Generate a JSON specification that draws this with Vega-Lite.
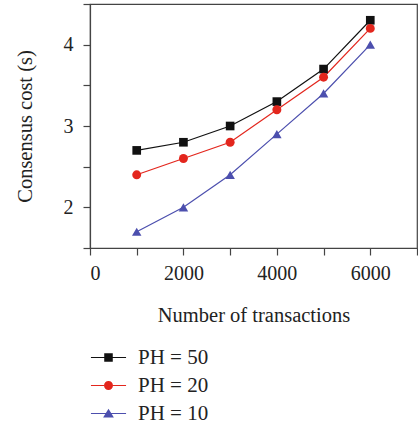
{
  "$schema": "https://vega.github.io/schema/vega-lite/v6.json",
  "width": 327,
  "height": 244,
  "autosize": {"type": "none"},
  "padding": {"left": 90, "top": 4, "right": 1, "bottom": 176},
  "config": {
    "font": "Liberation Serif",
    "view": {"stroke": "#444444", "strokeWidth": 1.2},
    "axis": {
      "grid": false,
      "domainColor": "#444444",
      "domainWidth": 1.2,
      "tickColor": "#444444",
      "tickWidth": 1.2,
      "tickSize": 7,
      "labelFont": "Liberation Serif",
      "labelFontSize": 20,
      "labelColor": "#222222",
      "titleFont": "Liberation Serif",
      "titleFontSize": 20.5,
      "titleFontWeight": "normal",
      "titleColor": "#222222"
    },
    "legend": {
      "labelFont": "Liberation Serif"
    }
  },
  "data": {
    "values": [
      {"n": 1000, "cost": 2.7, "series": "PH = 50"},
      {"n": 2000, "cost": 2.8, "series": "PH = 50"},
      {"n": 3000, "cost": 3.0, "series": "PH = 50"},
      {"n": 4000, "cost": 3.3, "series": "PH = 50"},
      {"n": 5000, "cost": 3.7, "series": "PH = 50"},
      {"n": 6000, "cost": 4.3, "series": "PH = 50"},
      {"n": 1000, "cost": 2.4, "series": "PH = 20"},
      {"n": 2000, "cost": 2.6, "series": "PH = 20"},
      {"n": 3000, "cost": 2.8, "series": "PH = 20"},
      {"n": 4000, "cost": 3.2, "series": "PH = 20"},
      {"n": 5000, "cost": 3.6, "series": "PH = 20"},
      {"n": 6000, "cost": 4.2, "series": "PH = 20"},
      {"n": 1000, "cost": 1.7, "series": "PH = 10"},
      {"n": 2000, "cost": 2.0, "series": "PH = 10"},
      {"n": 3000, "cost": 2.4, "series": "PH = 10"},
      {"n": 4000, "cost": 2.9, "series": "PH = 10"},
      {"n": 5000, "cost": 3.4, "series": "PH = 10"},
      {"n": 6000, "cost": 4.0, "series": "PH = 10"}
    ]
  },
  "encoding": {
    "x": {
      "field": "n",
      "type": "quantitative",
      "scale": {"domain": [0, 7000], "nice": false, "zero": false},
      "axis": {
        "title": "Number of transactions",
        "values": [0, 1000, 2000, 3000, 4000, 5000, 6000, 7000],
        "format": "d",
        "labelExpr": "datum.value % 2000 === 0 && datum.value < 7000 ? datum.label : ''",
        "labelPadding": 8,
        "titlePadding": 22,
        "encode": {"ticks": {"update": {"y2": {"signal": "datum.value % 2000 === 0 ? 7 : 5"}}}}
      }
    },
    "y": {
      "field": "cost",
      "type": "quantitative",
      "scale": {"domain": [1.5, 4.5], "nice": false, "zero": false},
      "axis": {
        "title": "Consensus cost (s)",
        "values": [1.5, 2, 2.5, 3, 3.5, 4, 4.5],
        "labelExpr": "datum.value % 1 === 0 ? '' + datum.value : ''",
        "labelPadding": 10,
        "titlePadding": 28,
        "encode": {"ticks": {"update": {"x2": {"signal": "datum.value % 1 === 0 ? -7 : -5"}}}}
      }
    },
    "color": {
      "field": "series",
      "type": "nominal",
      "scale": {"domain": ["PH = 50", "PH = 20", "PH = 10"], "range": ["#111111", "#e3261d", "#4c4fae"]},
      "legend": {
        "title": null,
        "orient": "none",
        "legendX": 8,
        "legendY": 343,
        "padding": 0,
        "labelFontSize": 21,
        "labelColor": "#222222",
        "labelOffset": 19,
        "rowPadding": 6,
        "symbolSize": 81,
        "symbolStrokeWidth": 0,
        "symbolOpacity": 1,
        "encode": {
          "symbols": {
            "update": {
              "shape": {"signal": "datum.value === 'PH = 50' ? 'M-3.9,-0.13H-0.95V0.13H-3.9Z M0.95,-0.13H3.9V0.13H0.95Z M-0.95,-0.95H0.95V0.95H-0.95Z' : datum.value === 'PH = 20' ? 'M-3.9,-0.13H-1V0.13H-3.9Z M1,-0.13H3.9V0.13H1Z M-1,0A1,1,0,1,1,1,0A1,1,0,1,1,-1,0Z' : 'M-3.9,-0.13H-0.6V0.13H-3.9Z M0.6,-0.13H3.9V0.13H0.6Z M0,-1.05L1.2,0.9L-1.2,0.9Z'"}
            }
          }
        }
      }
    }
  },
  "layer": [
    {"mark": {"type": "line", "strokeWidth": 1.2}},
    {
      "transform": [{"filter": "datum.series === 'PH = 50'"}],
      "mark": {"type": "point", "filled": true, "size": 75, "opacity": 1, "shape": "square"}
    },
    {
      "transform": [{"filter": "datum.series === 'PH = 20'"}],
      "mark": {"type": "point", "filled": true, "size": 80, "opacity": 1, "shape": "circle"}
    },
    {
      "transform": [{"filter": "datum.series === 'PH = 10'"}],
      "mark": {"type": "point", "filled": true, "size": 90, "opacity": 1, "shape": "triangle-up"}
    }
  ]
}
